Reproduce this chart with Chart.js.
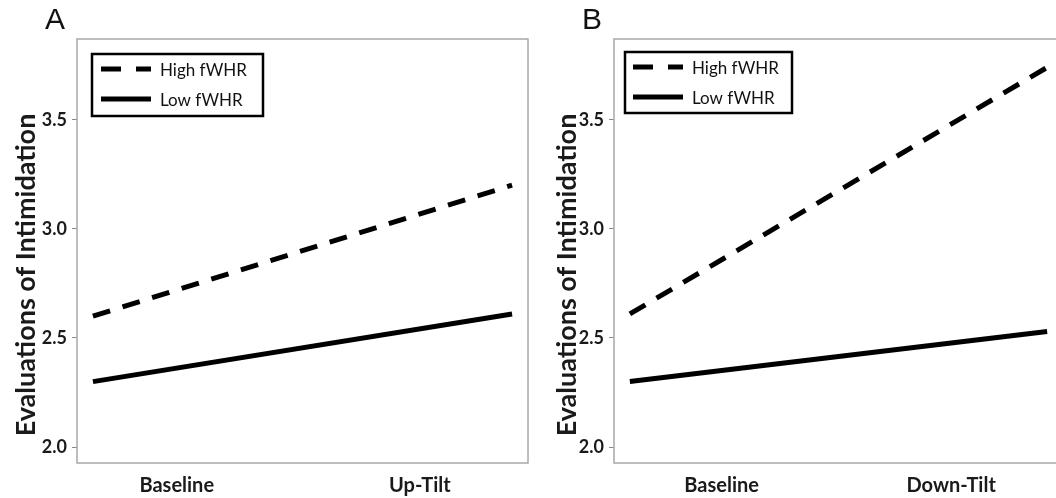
<!DOCTYPE html>
<html>
<head>
<meta charset="utf-8">
<script src="https://cdn.jsdelivr.net/npm/chart.js@4.4.1/dist/chart.umd.min.js"></script>
<style>
  html, body { margin: 0; padding: 0; background: #fff; overflow: hidden; }
  #wrap { position: relative; width: 1056px; height: 498px; overflow: hidden; }
  canvas { position: absolute; top: 0; }
  #panelA { left: 0; }
  #panelB { left: 535px; }
</style>
</head>
<body>
<div id="wrap">
  <canvas id="panelA" width="540" height="498"></canvas>
  <canvas id="panelB" width="540" height="498"></canvas>
</div>
<script>
// data
var seriesNames = ["High fWHR", "Low fWHR"];
var conditionsA = ["Baseline", "Up-Tilt"];
var conditionsB = ["Baseline", "Down-Tilt"];
var highA = [2.60, 3.20];
var lowA = [2.30, 2.61];
var highB = [2.61, 3.74];
var lowB = [2.30, 2.53];
var yTicks = [2.0, 2.5, 3.0, 3.5];
// x of the line ends, and where the condition labels sit
var lineX = [0, 1];
var labelXA = [0.20, 0.78];
var labelXB = [0.22, 0.77];

var FONT = "Lato";

// frame, legend box, panel letter and y title
var panelDecor = {
  id: 'panelDecor',
  afterDraw: function(chart, args, o) {
    var ctx = chart.ctx;
    var a = chart.chartArea;
    ctx.save();

    ctx.strokeStyle = '#a8a8a8';
    ctx.lineWidth = 1.5;
    ctx.strokeRect(a.left, a.top, a.right - a.left, a.bottom - a.top);

    ctx.fillStyle = '#111';
    ctx.font = '30px "Liberation Sans"';
    ctx.textAlign = 'left';
    ctx.textBaseline = 'middle';
    ctx.fillText(o.letter, o.letterX, 21);

    ctx.save();
    ctx.translate(o.titleX, 275);
    ctx.rotate(-Math.PI / 2);
    ctx.textAlign = 'center';
    ctx.textBaseline = 'alphabetic';
    ctx.font = 'bold 27px ' + FONT;
    ctx.fillStyle = '#1a1a1a';
    ctx.fillText('Evaluations of Intimidation', 0, 0);
    ctx.restore();

    // legend
    var lx = a.left + o.legend.x, ly = a.top + o.legend.y;
    ctx.strokeStyle = '#000';
    ctx.lineWidth = 2.5;
    ctx.strokeRect(lx, ly, o.legend.w, o.legend.h);
    ctx.font = '17px ' + FONT;
    ctx.fillStyle = '#111';
    chart.data.datasets.forEach(function(ds, i) {
      var yy = ly + 15 + i * 30;
      ctx.beginPath();
      ctx.lineWidth = 5;
      ctx.lineCap = 'butt';
      ctx.setLineDash(ds.borderDash ? [20, 15] : []);
      ctx.moveTo(lx + o.legend.sx, yy);
      ctx.lineTo(lx + o.legend.sx + 50, yy);
      ctx.stroke();
      ctx.setLineDash([]);
      ctx.fillText(ds.label, lx + o.legend.tx, yy + 2);
    });

    ctx.restore();
  }
};

function toPoints(vals) {
  var pts = [];
  for (var i = 0; i < vals.length; i++) {
    pts.push({ x: lineX[i], y: vals[i] });
  }
  return pts;
}

function makePanel(canvasId, conditions, labelX, high, low, deco) {
  var ctx = document.getElementById(canvasId).getContext('2d');
  return new Chart(ctx, {
    type: 'line',
    data: {
      datasets: [
        {
          label: seriesNames[0],
          data: toPoints(high),
          borderColor: '#000',
          borderWidth: 5,
          borderDash: [18, 13],
          pointRadius: 0,
          fill: false
        },
        {
          label: seriesNames[1],
          data: toPoints(low),
          borderColor: '#000',
          borderWidth: 5,
          pointRadius: 0,
          fill: false
        }
      ]
    },
    options: {
      responsive: false,
      animation: false,
      layout: { padding: { top: 39, right: 12, left: 0, bottom: 0 } },
      plugins: {
        legend: { display: false },
        tooltip: { enabled: false },
        panelDecor: deco
      },
      scales: {
        x: {
          type: 'linear',
          min: -0.038,
          max: 1.038,
          afterBuildTicks: function(scale) {
            scale.ticks = labelX.map(function(v) { return { value: v }; });
          },
          afterFit: function(scale) { scale.height = 35; },
          ticks: {
            autoSkip: false,
            maxRotation: 0,
            padding: 11,
            color: '#1a1a1a',
            font: { family: FONT, size: 20, weight: 'bold' },
            callback: function(value, index) { return conditions[index]; }
          },
          grid: { display: false, drawTicks: false },
          border: { display: false }
        },
        y: {
          min: 1.927,
          max: 3.87,
          afterBuildTicks: function(scale) {
            scale.ticks = yTicks.map(function(v) { return { value: v }; });
          },
          afterFit: function(scale) { scale.width = deco.axisWidth; },
          ticks: {
            padding: 5,
            color: '#1a1a1a',
            font: { family: FONT, size: 18, weight: 'bold' },
            callback: function(value) { return value.toFixed(1); }
          },
          grid: { drawOnChartArea: false, drawTicks: true, tickLength: 5, color: '#888' },
          border: { display: false }
        }
      }
    },
    plugins: [panelDecor]
  });
}

makePanel('panelA', conditionsA, labelXA, highA, lowA, {
  letter: 'A', letterX: 45, titleX: 35, axisWidth: 77,
  legend: { x: 15, y: 15, w: 171, h: 62, sx: 9, tx: 68 }
});
makePanel('panelB', conditionsB, labelXB, highB, lowB, {
  letter: 'B', letterX: 47, titleX: 41, axisWidth: 79,
  legend: { x: 11, y: 13, w: 167, h: 61, sx: 8, tx: 67 }
});
</script>
</body>
</html>
